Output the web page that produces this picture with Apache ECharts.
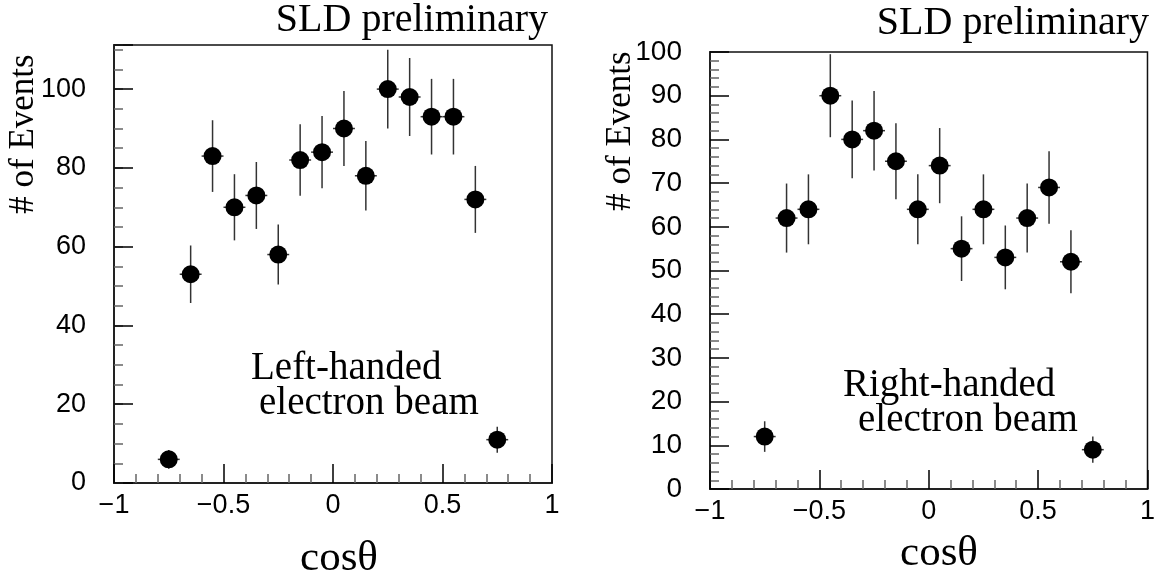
<!DOCTYPE html>
<html>
<head>
<meta charset="utf-8">
<script src="https://cdn.jsdelivr.net/npm/echarts@6/dist/echarts.min.js"></script>
<style>
html,body{margin:0;padding:0;background:#fff;}
#chart{width:1158px;height:579px;}
</style>
</head>
<body>
<div id="chart"></div>
<script>
// ---- data ----
const binCenters = [-0.75,-0.65,-0.55,-0.45,-0.35,-0.25,-0.15,-0.05,0.05,0.15,0.25,0.35,0.45,0.55,0.65,0.75];
const binHalfWidths = [0.05,0.05,0.05,0.05,0.05,0.05,0.05,0.05,0.05,0.05,0.05,0.05,0.05,0.05,0.05,0.05];
const leftCounts  = [6,53,83,70,73,58,82,84,90,78,100,98,93,93,72,11];
const leftErrors  = [2.4,7.3,9.1,8.4,8.5,7.6,9.1,9.2,9.5,8.8,10,9.9,9.6,9.6,8.5,3.3];
const rightCounts = [12,62,64,90,80,82,75,64,74,55,64,53,62,69,52,9];
const rightErrors = [3.5,7.9,8.0,9.5,8.9,9.1,8.7,8.0,8.6,7.4,8.0,7.3,7.9,8.3,7.2,3.0];
const xTickLabels = ['\u22121','\u22120.5','0','0.5','1'];
const yLeftTickLabels = ['0','20','40','60','80','100'];
const yRightTickLabels = ['0','10','20','30','40','50','60','70','80','90','100'];
const titleText = 'SLD preliminary';
const yTitle = '# of Events';
const xTitle = 'cos\u03b8';
const leftNote = ['Left-handed', 'electron beam'];
const rightNote = ['Right-handed', 'electron beam'];

const serif = '"Liberation Serif", "DejaVu Serif", serif';
const sans = '"Liberation Sans", Arial, sans-serif';

function buildData(counts, errs) {
  return binCenters.map((x, i) => [x, counts[i], errs[i], binHalfWidths[i]]);
}

function renderPoint(params, api) {
  const x = api.value(0), y = api.value(1), e = api.value(2), hw = api.value(3);
  const c = api.coord([x, y]);
  const t = api.coord([x, y + e]);
  const b = api.coord([x, y - e]);
  const l = api.coord([x - hw, y]);
  const r = api.coord([x + hw, y]);
  return {
    type: 'group',
    children: [
      {type: 'line', shape: {x1: c[0], y1: t[1], x2: c[0], y2: b[1]}, style: {stroke: '#333', lineWidth: 1.5}},
      {type: 'line', shape: {x1: l[0], y1: c[1], x2: r[0], y2: c[1]}, style: {stroke: '#333', lineWidth: 1.5}},
      {type: 'circle', shape: {cx: c[0], cy: c[1], r: 9}, style: {fill: '#000'}}
    ]
  };
}

function xAxisDef(gi) {
  return {
    gridIndex: gi, type: 'value', min: -1, max: 1, interval: 0.5,
    axisLine: {show: true, onZero: false, lineStyle: {color: '#222', width: 2}},
    axisTick: {show: true, inside: true, length: 19, lineStyle: {color: '#000', width: 1.5}},
    minorTick: {show: true, splitNumber: 5, length: 9, lineStyle: {color: '#666', width: 1.5}},
    splitLine: {show: false}, minorSplitLine: {show: false},
    axisLabel: {margin: 9, color: '#000', fontFamily: sans, fontSize: 27,
      formatter: (v, i) => xTickLabels[i] !== undefined ? xTickLabels[i] : ''}
  };
}

function txt(text, x, y, size, align, extra) {
  return Object.assign({
    type: 'text', x: x, y: y,
    style: {text: text, font: size + 'px ' + serif, fill: '#000',
      align: align, textAlign: align, verticalAlign: 'middle', textVerticalAlign: 'middle'}
  }, extra || {});
}

const chart = echarts.init(document.getElementById('chart'), null, {renderer: 'canvas'});
chart.setOption({
  backgroundColor: '#fff',
  animation: false,
  grid: [
    {left: 114, top: 45, width: 438, height: 438, show: true, borderColor: '#111', borderWidth: 1.5, backgroundColor: 'transparent'},
    {left: 710, top: 52, width: 438, height: 437, show: true, borderColor: '#111', borderWidth: 1.5, backgroundColor: 'transparent'}
  ],
  xAxis: [xAxisDef(0), xAxisDef(1)],
  yAxis: [
    {gridIndex: 0, type: 'value', min: 0, max: 111.2, interval: 5, position: 'left',
      axisLine: {show: true, onZero: false, lineStyle: {color: '#222', width: 2}},
      axisTick: {show: true, inside: true, length: 9, lineStyle: {color: '#666', width: 1.5}},
      splitLine: {show: false},
      axisLabel: {margin: 28, color: '#000', fontFamily: sans, fontSize: 27,
        formatter: v => (Math.abs(v % 20) < 1e-6 && yLeftTickLabels[Math.round(v / 20)] !== undefined) ? yLeftTickLabels[Math.round(v / 20)] : ''}},
    {gridIndex: 0, type: 'value', min: 0, max: 111.2, interval: 20, position: 'left',
      axisLine: {show: false, onZero: false},
      axisTick: {show: true, inside: true, length: 19, lineStyle: {color: '#000', width: 1.5}},
      splitLine: {show: false}, axisLabel: {show: false}},
    {gridIndex: 1, type: 'value', min: 0, max: 100, interval: 10, position: 'left',
      axisLine: {show: true, onZero: false, lineStyle: {color: '#222', width: 2}},
      axisTick: {show: true, inside: true, length: 19, lineStyle: {color: '#000', width: 1.5}},
      minorTick: {show: true, splitNumber: 5, length: 9, lineStyle: {color: '#666', width: 1.5}},
      splitLine: {show: false}, minorSplitLine: {show: false},
      axisLabel: {margin: 28, color: '#000', fontFamily: sans, fontSize: 28,
        formatter: (v, i) => yRightTickLabels[i] !== undefined ? yRightTickLabels[i] : ''}}
  ],
  series: [
    {type: 'custom', name: 'Left-handed', xAxisIndex: 0, yAxisIndex: 0, renderItem: renderPoint,
      data: buildData(leftCounts, leftErrors), encode: {x: 0, y: 1}, clip: false},
    {type: 'custom', name: 'Right-handed', xAxisIndex: 1, yAxisIndex: 2, renderItem: renderPoint,
      data: buildData(rightCounts, rightErrors), encode: {x: 0, y: 1}, clip: false}
  ],
  graphic: [
    txt(titleText, 548, 20, 40, 'right'),
    txt(titleText, 1149, 23, 40, 'right'),
    txt(yTitle, 24, 134, 35, 'center', {rotation: Math.PI / 2}),
    txt(yTitle, 621, 131, 35, 'center', {rotation: Math.PI / 2}),
    txt(xTitle, 339, 559, 43, 'center'),
    txt(xTitle, 939, 554, 43, 'center'),
    txt(leftNote[0], 251, 369, 39, 'left'),
    txt(leftNote[1], 259, 404, 39, 'left'),
    txt(rightNote[0], 843, 386, 39, 'left'),
    txt(rightNote[1], 858, 421, 39, 'left')
  ]
});
</script>
</body>
</html>
